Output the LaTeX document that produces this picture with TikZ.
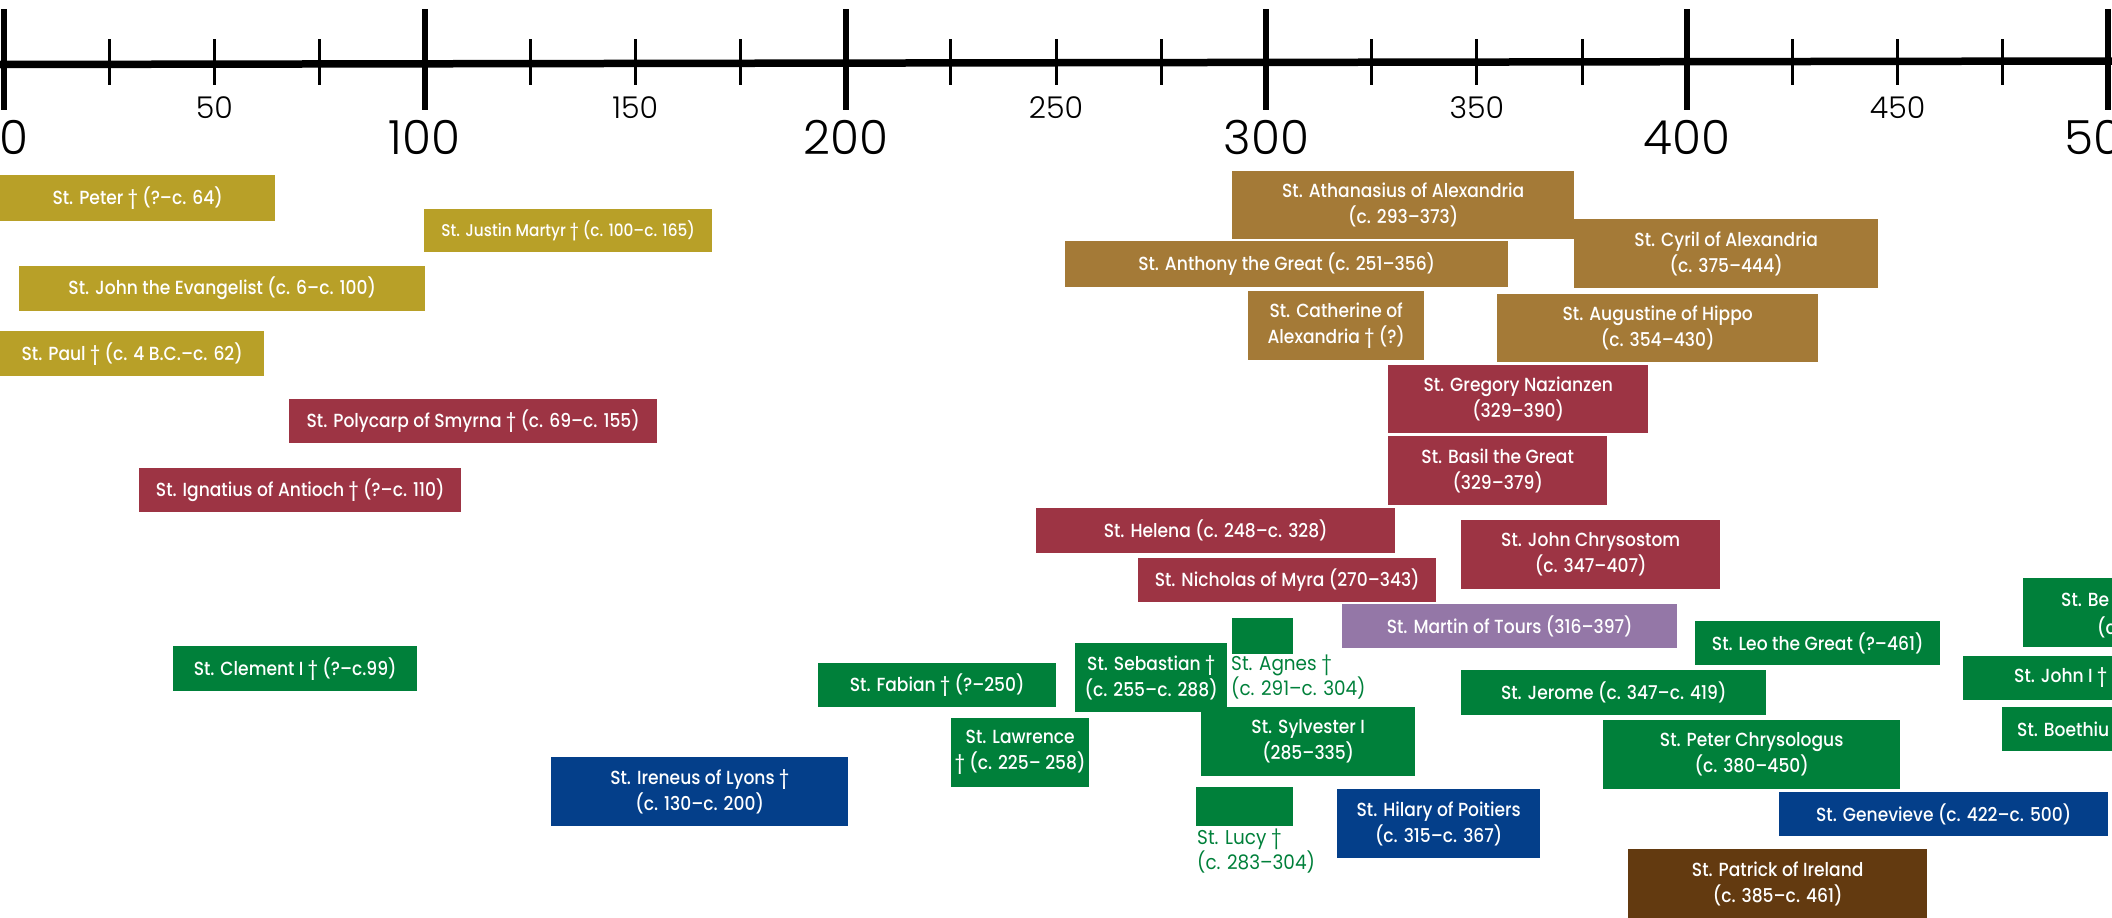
\documentclass[tikz,border=0pt]{standalone}
\usepackage{fontspec}
\setmainfont{Poppins Medium}[FakeStretch=0.9]
\newfontfamily\plainfont{Poppins}[FakeStretch=0.92]
\newfontfamily\axisfont{Poppins Light}

\definecolor{gold}{HTML}{B8A028}
\definecolor{ochre}{HTML}{A47A37}
\definecolor{wine}{HTML}{9D3444}
\definecolor{leaf}{HTML}{00803A}
\definecolor{navy}{HTML}{043F8A}
\definecolor{lilac}{HTML}{9477A7}
\definecolor{umber}{HTML}{633A10}

\begin{document}
\begin{tikzpicture}[x=1pt, y=-1pt,
        saint/.style={fill=#1, text=white, anchor=north west, inner sep=0pt, align=center, font=\fontsize{19}{26}\selectfont},
        sz/.style 2 args={minimum width=#1pt, minimum height=#2pt},
        cut/.style={text=white, anchor=west, inner sep=0pt, font=\fontsize{19}{26}\selectfont},
        martyr/.style={text=leaf, anchor=north west, inner sep=0pt, align=left, font=\plainfont\fontsize{20}{17}\selectfont}]
        \useasboundingbox (0,0) rectangle (2112,918);
        \clip (0,0) rectangle (2112,918);

        % time axis
        \draw[line width=7.5pt] (0,64.5) -- (2112,61);
        \foreach \yr in {25,50,...,475}
            \draw[line width=3pt] ({4+4.208*\yr},39) -- ({4+4.208*\yr},85);
        \foreach \yr in {0,100,...,500}
            \draw[line width=6pt] ({4+4.208*\yr},9) -- ({4+4.208*\yr},110);
        \node[font=\axisfont\fontsize{47}{47}\selectfont] (y0) at (14,137) {0};
        \foreach \yr in {100,200,...,500}
            \node[font=\axisfont\fontsize{47}{47}\selectfont] (y\yr) at ({4+4.208*\yr},137) {\yr};
        \foreach \yr in {50,150,...,450}
            \node[font=\axisfont\fontsize{30}{30}\selectfont] (y\yr) at ({4+4.208*\yr},108) {\yr};

        % apostles
        \node[saint=gold, sz={275}{46}] (peter) at (0,175) {St. Peter † (?–c. 64)};
        \node[saint=gold, sz={288}{43}, font=\fontsize{17}{22}\selectfont] (justin) at (424,209) {St. Justin Martyr † (c. 100–c. 165)};
        \node[saint=gold, sz={406}{45}] (johnev) at (19,266) {St. John the Evangelist (c. 6–c. 100)};
        \node[saint=gold, sz={264}{45}] (paul) at (0,331) {St. Paul † (c. 4 B.C.–c. 62)};

        % desert and alexandria
        \node[saint=ochre, sz={342}{68}] (athanasius) at (1232,171) {St. Athanasius of Alexandria\\(c. 293–373)};
        \node[saint=ochre, sz={443}{46}] (anthony) at (1065,241) {St. Anthony the Great (c. 251–356)};
        \node[saint=ochre, sz={304}{69}] (cyril) at (1574,219) {St. Cyril of Alexandria\\(c. 375–444)};
        \node[saint=ochre, sz={176}{69}] (catherine) at (1248,291) {St. Catherine of\\Alexandria † (?)};
        \node[saint=ochre, sz={321}{68}] (augustine) at (1497,294) {St. Augustine of Hippo\\(c. 354–430)};

        % east
        \node[saint=wine, sz={368}{44}] (polycarp) at (289,399) {St. Polycarp of Smyrna † (c. 69–c. 155)};
        \node[saint=wine, sz={322}{44}] (ignatius) at (139,468) {St. Ignatius of Antioch † (?–c. 110)};
        \node[saint=wine, sz={260}{68}] (gregory) at (1388,365) {St. Gregory Nazianzen\\(329–390)};
        \node[saint=wine, sz={219}{69}] (basil) at (1388,436) {St. Basil the Great\\(329–379)};
        \node[saint=wine, sz={359}{45}] (helena) at (1036,508) {St. Helena (c. 248–c. 328)};
        \node[saint=wine, sz={259}{69}] (chrysostom) at (1461,520) {St. John Chrysostom\\(c. 347–407)};
        \node[saint=wine, sz={298}{44}] (nicholas) at (1138,558) {St. Nicholas of Myra (270–343)};
        \node[saint=lilac, sz={335}{44}] (martin) at (1342,604) {St. Martin of Tours (316–397)};

        % rome
        \node[saint=leaf, sz={244}{45}] (clement) at (173,646) {St. Clement I † (?–c.99)};
        \node[saint=leaf, sz={238}{44}] (fabian) at (818,663) {St. Fabian † (?–250)};
        \node[saint=leaf, sz={152}{69}] (sebastian) at (1075,643) {St. Sebastian †\\(c. 255–c. 288)};
        \node[saint=leaf, sz={61}{36}] (agnes) at (1232,618) {};
        \node[martyr] (agneslbl) at (1231,655) {St. Agnes †\\(c. 291–c. 304)};
        \node[saint=leaf, sz={138}{69}] (lawrence) at (951,718) {St. Lawrence\\† (c. 225– 258)};
        \node[saint=leaf, sz={214}{69}] (sylvester) at (1201,707) {St. Sylvester I\\(285–335)};
        \node[saint=leaf, sz={97}{39}] (lucy) at (1196,787) {};
        \node[martyr] (lucylbl) at (1197,829) {St. Lucy †\\(c. 283–304)};
        \node[saint=leaf, sz={305}{45}] (jerome) at (1461,670) {St. Jerome (c. 347–c. 419)};
        \node[saint=leaf, sz={245}{44}] (leo) at (1695,621) {St. Leo the Great (?–461)};
        \node[saint=leaf, sz={297}{69}] (chrysologus) at (1603,720) {St. Peter Chrysologus\\(c. 380–450)};
        \node[saint=leaf, sz={120}{69}] (benedict) at (2023,578) {};
        \node[cut] (benedictA) at (2061,600) {St. Be};
        \node[cut] (benedictB) at (2097,627) {(c};
        \node[saint=leaf, sz={160}{44}] (johnI) at (1963,656) {};
        \node[cut] (johnIA) at (2014,678) {St. John I †};
        \node[saint=leaf, sz={120}{44}] (boethius) at (2002,707) {};
        \node[cut] (boethiusA) at (2017,729) {St. Boethiu};

        % west
        \node[saint=navy, sz={297}{69}] (ireneus) at (551,757) {St. Ireneus of Lyons †\\(c. 130–c. 200)};
        \node[saint=navy, sz={203}{69}] (hilary) at (1337,789) {St. Hilary of Poitiers\\(c. 315–c. 367)};
        \node[saint=navy, sz={329}{44}] (genevieve) at (1779,792) {St. Genevieve (c. 422–c. 500)};
        \node[saint=umber, sz={299}{69}] (patrick) at (1628,849) {St. Patrick of Ireland\\(c. 385–c. 461)};
    \end{tikzpicture}
\end{document}
